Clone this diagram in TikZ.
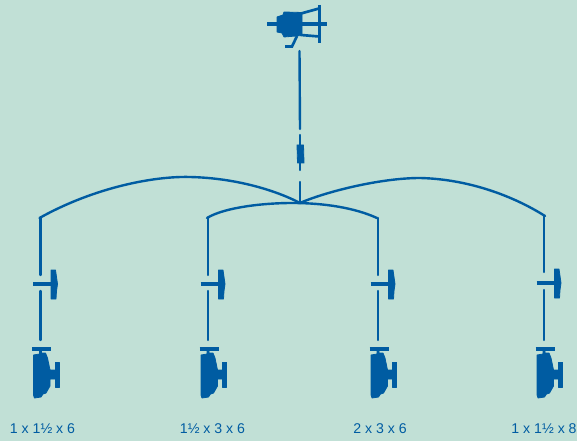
\documentclass[tikz,border=0pt]{standalone}
\usepackage{fontspec}
\setmainfont{Liberation Sans}
\definecolor{bgc}{HTML}{C1E0D6}
\definecolor{ink}{HTML}{005CA2}
\tikzset{
  x=0.75pt,y=-0.75pt,
  pipe/.style={draw=ink,line width=1.8pt,line cap=round},
  thick pipe/.style={draw=ink,line width=2.6pt},
  strut/.style={draw=ink,line width=2pt},
  solid part/.style={fill=ink,draw=ink,line width=0.6pt,line join=round},
  sizelabel/.style={text=ink,font=\fontsize{10.6pt}{12pt}\selectfont,inner sep=0pt},
  pics/valvesym/.style={code={
    \draw[thick pipe] (-7.5,0) -- (13,0);
    \fill[solid part] (10.5,-14) -- (15,-14) -- (16,-7) -- (17,0) -- (16,7) -- (15.5,15) -- (10.5,15) -- cycle;
  }},
  pics/pumpsym/.style={code={
    \draw[thick pipe] (-8.5,0) -- (10.5,0);
    \fill[solid part] (-1,0) -- (1,0) -- (1,4) -- (5,4) -- (7,9) -- (9.5,21) -- (15,21) -- (15,30) -- (9.5,30) -- (9.5,37) -- (5.5,44) -- (2.5,45) -- (0.5,48) -- (-6,49) -- (-7,46) -- (-7,6) -- (-1,5) -- cycle;
    \fill[solid part] (14.5,13) -- (18.5,13) -- (18.5,38) -- (14.5,38) -- cycle;
  }},
}
\begin{document}
\begin{tikzpicture}
\useasboundingbox[fill=bgc] (0,0) rectangle (577,441);
% motor
\fill[solid part] (277,17) -- (283,15) -- (284,12) -- (302,12.5) -- (302,35.5) -- (284,37) -- (282,33) -- (277,32) -- cycle;
\draw[thick pipe] (267,24) -- (327,24);
\draw[thick pipe] (319.5,5) -- (319.5,43);
\draw[strut] (301,13.5) -- (319,8.5);
\draw[strut] (301,35) -- (319,36.5);
\draw[strut] (297,36) -- (292,46.5) -- (285,46.5);
% coordinates
\coordinate (motorout) at (299.5,51);
\coordinate (ctop) at (300,129);
\coordinate (cbot) at (300,182);
\coordinate (hub) at (300,203);
\coordinate (la) at (39.5,218);
\coordinate (lb) at (207,218);
\coordinate (lc) at (377,218);
\coordinate (ld) at (545,216);
% central valve
\draw[pipe] (300,135) -- (300,170);
\fill[solid part] (297,145) -- (303.5,145) -- (304,163) -- (297.5,163) -- cycle;
% pipes
\draw[pipe] (motorout) -- (ctop);
\draw[pipe] (cbot) -- (hub);
\draw[pipe] (la) .. controls (95,187) and (155,176) .. (190,177) .. controls (235,178) and (275,190) .. (hub);
\draw[pipe] (hub) .. controls (325,192) and (380,178) .. (420,178) .. controls (465,179) and (510,194) .. (ld);
\draw[pipe] (lb) .. controls (225,207) and (265,203) .. (292,203) .. controls (325,203) and (355,208) .. (lc);
% branches
\foreach \n/\x/\ya/\yb/\yc/\t/\lx in {
  a/40.5/218/275/284/1 x 1½ x 6/42.5,
  b/208/218/275/284/1½ x 3 x 6/212.5,
  c/378/218/275/284/2 x 3 x 6/380,
  d/544/216/272/283/1 x 1½ x 8/544}{
  \coordinate (v\n) at (\x,\yc);
  \coordinate (vi\n) at (\x,\yb);
  \coordinate (vo\n) at (\x,\yc+7);
  \coordinate (po\n) at (\x,340);
  \pic at (v\n) {valvesym};
  \pic at (\x,349) {pumpsym};
  \node[sizelabel] (t\n) at (\lx,429) {\t};
  \draw[pipe] (vi\n) -- (\x,\ya);
  \draw[pipe] (vo\n) -- (po\n);
}
\end{tikzpicture}
\end{document}
